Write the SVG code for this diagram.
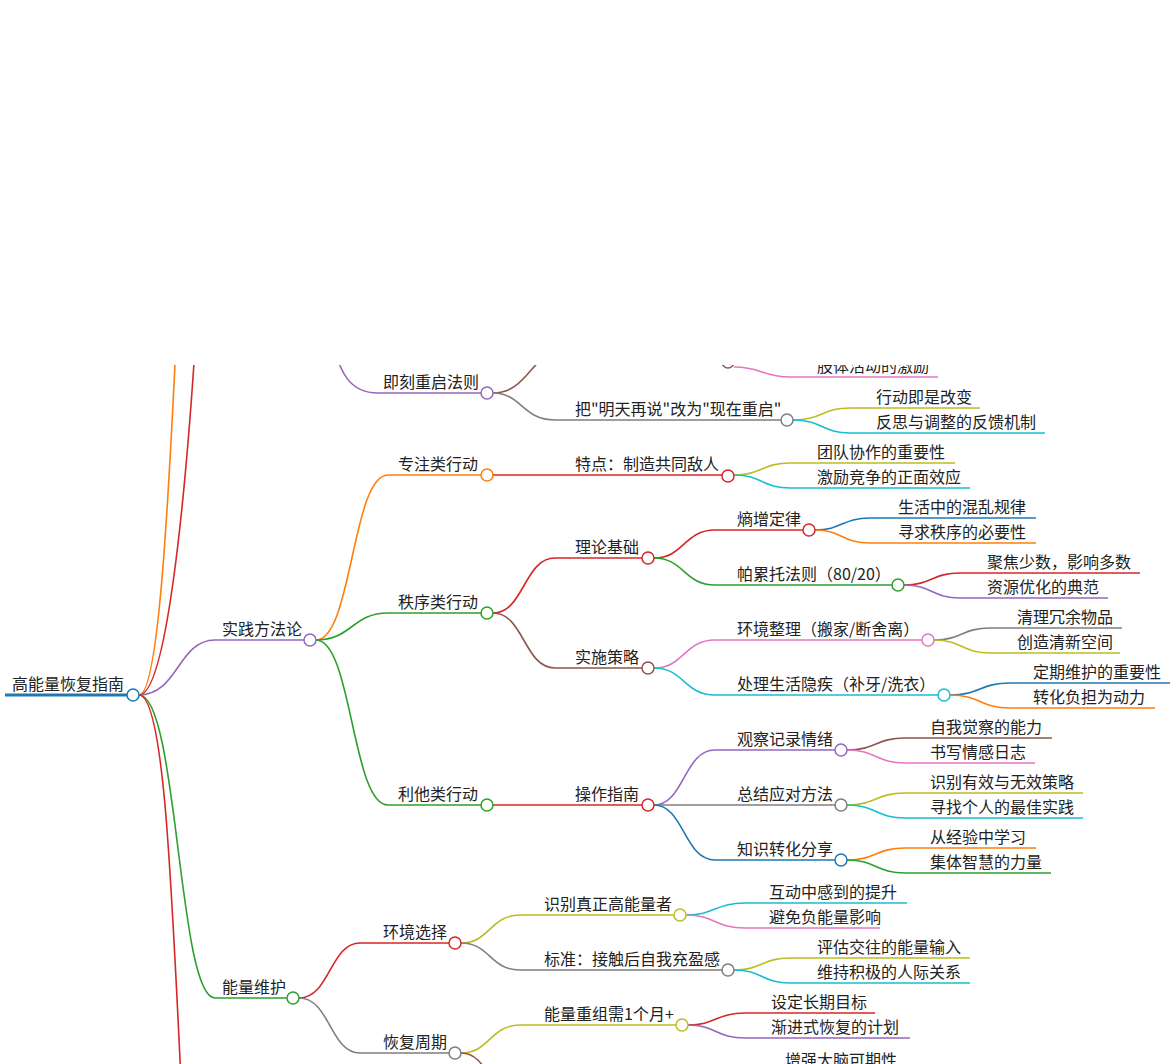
<svg xmlns="http://www.w3.org/2000/svg" width="1176" height="1064" viewBox="0 0 1176 1064">
<defs><clipPath id="c"><rect x="0" y="365" width="1176" height="700"/></clipPath></defs>
<style>
text{font-family:"Noto Sans CJK SC","Noto Sans",sans-serif;font-size:16px;fill:#222}
path{fill:none;stroke-width:1.6}
circle{fill:#fff;stroke-width:1.5}
.pu{stroke:#9467bd}.or{stroke:#ff7f0e}.gr{stroke:#2ca02c}.re{stroke:#d62728}.br{stroke:#8c564b}.pi{stroke:#e377c2}.gy{stroke:#7f7f7f}.ol{stroke:#bcbd22}.cy{stroke:#17becf}.bl{stroke:#1f77b4}
</style>
<rect width="1176" height="1064" fill="#fff"/>
<g clip-path="url(#c)">
<g id="connectors">
<path class="bl" style="stroke-width:3" d="M5,695 L127,695"/>
<path class="or" d="M139,695 C158,695 168,520 178,300"/>
<path class="re" d="M139,695 C165,695 185,520 198,300"/>
<path class="pu" d="M139,695 C178,695 178,640 215,640 L304,640"/>
<path class="gr" d="M139,695 C178,695 178,998 215,998 L287,998"/>
<path class="re" d="M139,695 C165,695 172,900 182,1100"/>
<path class="pu" d="M328,330 C340,375 350,393 378,393 L481,393"/>
<path class="or" d="M316,640 C352,640 352,475 388,475 L481,475"/>
<path class="gr" d="M316,640 C352,640 352,613 388,613 L481,613"/>
<path class="gr" d="M316,640 C352,640 352,805 388,805 L481,805"/>
<path class="br" d="M493,393 C525,393 530,360 560,345"/>
<path class="gy" d="M493,393 C522,393 522,420 555,420 L781,420"/>
<path class="pi" d="M734,367 C762,367 762,377 790,377 L938,377"/>
<path class="ol" d="M793,420 C822,420 822,408 850,408 L980,408"/>
<path class="cy" d="M793,420 C822,420 822,433 850,433 L1045,433"/>
<path class="re" d="M493,475 L722,475"/>
<path class="ol" d="M734,475 C762,475 762,463 790,463 L955,463"/>
<path class="cy" d="M734,475 C762,475 762,488 790,488 L970,488"/>
<path class="re" d="M493,613 C524,613 524,558 555,558 L642,558"/>
<path class="br" d="M493,613 C524,613 524,668 555,668 L642,668"/>
<path class="re" d="M654,558 C684,558 684,530 715,530 L803,530"/>
<path class="gr" d="M654,558 C684,558 684,585 715,585 L892,585"/>
<path class="bl" d="M815,530 C842,530 842,518 870,518 L1036,518"/>
<path class="or" d="M815,530 C842,530 842,543 870,543 L1036,543"/>
<path class="re" d="M904,585 C932,585 932,573 960,573 L1140,573"/>
<path class="pu" d="M904,585 C932,585 932,598 960,598 L1108,598"/>
<path class="pi" d="M654,668 C684,668 684,640 715,640 L922,640"/>
<path class="cy" d="M654,668 C684,668 684,695 715,695 L938,695"/>
<path class="gy" d="M934,640 C962,640 962,628 990,628 L1122,628"/>
<path class="ol" d="M934,640 C962,640 962,653 990,653 L1120,653"/>
<path class="bl" d="M950,695 C980,695 980,683 1010,683 L1170,683"/>
<path class="or" d="M950,695 C980,695 980,708 1010,708 L1155,708"/>
<path class="re" d="M493,805 L642,805"/>
<path class="pu" d="M654,805 C684,805 684,750 715,750 L835,750"/>
<path class="gy" d="M654,805 L835,805"/>
<path class="bl" d="M654,805 C684,805 684,860 715,860 L835,860"/>
<path class="br" d="M847,750 C876,750 876,738 905,738 L1052,738"/>
<path class="pi" d="M847,750 C876,750 876,763 905,763 L1035,763"/>
<path class="ol" d="M847,805 C876,805 876,793 905,793 L1083,793"/>
<path class="cy" d="M847,805 C876,805 876,818 905,818 L1083,818"/>
<path class="or" d="M847,860 C876,860 876,848 905,848 L1036,848"/>
<path class="gr" d="M847,860 C876,860 876,873 905,873 L1051,873"/>
<path class="re" d="M299,998 C330,998 330,943 360,943 L449,943"/>
<path class="gy" d="M299,998 C330,998 330,1053 360,1053 L449,1053"/>
<path class="ol" d="M461,943 C490,943 490,915 520,915 L674,915"/>
<path class="gy" d="M461,943 C490,943 490,970 520,970 L722,970"/>
<path class="cy" d="M686,915 C715,915 715,903 745,903 L907,903"/>
<path class="pi" d="M686,915 C715,915 715,928 745,928 L880,928"/>
<path class="ol" d="M734,970 C762,970 762,958 790,958 L970,958"/>
<path class="cy" d="M734,970 C762,970 762,983 790,983 L970,983"/>
<path class="ol" d="M461,1053 C490,1053 490,1025 520,1025 L676,1025"/>
<path class="br" d="M461,1053 C490,1053 490,1100 520,1100"/>
<path class="re" d="M688,1025 C716,1025 716,1013 745,1013 L875,1013"/>
<path class="pu" d="M688,1025 C716,1025 716,1038 745,1038 L910,1038"/>
</g>
<g id="root"><text x="12" y="690">高能量恢复指南</text><circle class="bl" cx="133" cy="695" r="6"/></g>
<g id="n-shijian"><text x="222" y="635">实践方法论</text><circle class="pu" cx="310" cy="640" r="6"/></g>
<g id="n-nengliang"><text x="222" y="993">能量维护</text><circle class="gr" cx="293" cy="998" r="6"/></g>
<g id="n-jike"><text x="383" y="388">即刻重启法则</text><circle class="pu" cx="487" cy="393" r="6"/></g>
<g id="n-zhuanzhu"><text x="398" y="470">专注类行动</text><circle class="or" cx="487" cy="475" r="6"/></g>
<g id="n-zhixu"><text x="398" y="608">秩序类行动</text><circle class="gr" cx="487" cy="613" r="6"/></g>
<g id="n-lita"><text x="398" y="800">利他类行动</text><circle class="gr" cx="487" cy="805" r="6"/></g>
<g id="n-hidden"><circle class="br" cx="728" cy="362" r="6"/></g>
<g id="n-ba"><text x="575" y="415">把"明天再说"改为"现在重启"</text><circle class="gy" cx="787" cy="420" r="6"/></g>
<g id="n-tedian"><text x="575" y="470">特点：制造共同敌人</text><circle class="re" cx="728" cy="476" r="6"/></g>
<g id="n-lilun"><text x="575" y="553">理论基础</text><circle class="re" cx="648" cy="558" r="6"/></g>
<g id="n-shishi"><text x="575" y="663">实施策略</text><circle class="br" cx="648" cy="668" r="6"/></g>
<g id="n-caozuo"><text x="575" y="800">操作指南</text><circle class="re" cx="648" cy="805" r="6"/></g>
<g id="n-shang"><text x="737" y="525">熵增定律</text><circle class="re" cx="809" cy="530" r="6"/></g>
<g id="n-pa"><text x="737" y="580">帕累托法则（80/20）</text><circle class="gr" cx="898" cy="585" r="6"/></g>
<g id="n-huanjing"><text x="737" y="635">环境整理（搬家/断舍离）</text><circle class="pi" cx="928" cy="640" r="6"/></g>
<g id="n-yinji"><text x="737" y="690">处理生活隐疾（补牙/洗衣）</text><circle class="cy" cx="944" cy="695" r="6"/></g>
<g id="n-guancha"><text x="737" y="745">观察记录情绪</text><circle class="pu" cx="841" cy="750" r="6"/></g>
<g id="n-zongjie"><text x="737" y="800">总结应对方法</text><circle class="gy" cx="841" cy="805" r="6"/></g>
<g id="n-zhishi"><text x="737" y="855">知识转化分享</text><circle class="bl" cx="841" cy="860" r="6"/></g>
<g id="n-hjxz"><text x="383" y="938">环境选择</text><circle class="re" cx="455" cy="943" r="6"/></g>
<g id="n-hfzq"><text x="383" y="1048">恢复周期</text><circle class="gy" cx="455" cy="1053" r="6"/></g>
<g id="n-shibie"><text x="544" y="910">识别真正高能量者</text><circle class="ol" cx="680" cy="915" r="6"/></g>
<g id="n-biaozhun"><text x="544" y="965">标准：接触后自我充盈感</text><circle class="gy" cx="728" cy="970" r="6"/></g>
<g id="n-chongzu"><text x="544" y="1020">能量重组需1个月+</text><circle class="ol" cx="682" cy="1025" r="6"/></g>
<g id="leaves">
<text x="817" y="372">肢体活动的激励</text>
<text x="876" y="403">行动即是改变</text>
<text x="876" y="428">反思与调整的反馈机制</text>
<text x="817" y="458">团队协作的重要性</text>
<text x="817" y="483">激励竞争的正面效应</text>
<text x="898" y="513">生活中的混乱规律</text>
<text x="898" y="538">寻求秩序的必要性</text>
<text x="987" y="568">聚焦少数，影响多数</text>
<text x="987" y="593">资源优化的典范</text>
<text x="1017" y="623">清理冗余物品</text>
<text x="1017" y="648">创造清新空间</text>
<text x="1033" y="678">定期维护的重要性</text>
<text x="1033" y="703">转化负担为动力</text>
<text x="930" y="733">自我觉察的能力</text>
<text x="930" y="758">书写情感日志</text>
<text x="930" y="788">识别有效与无效策略</text>
<text x="930" y="813">寻找个人的最佳实践</text>
<text x="930" y="843">从经验中学习</text>
<text x="930" y="868">集体智慧的力量</text>
<text x="769" y="898">互动中感到的提升</text>
<text x="769" y="923">避免负能量影响</text>
<text x="817" y="953">评估交往的能量输入</text>
<text x="817" y="978">维持积极的人际关系</text>
<text x="771" y="1008">设定长期目标</text>
<text x="771" y="1033">渐进式恢复的计划</text>
<text x="785" y="1066">增强大脑可期性</text>
</g>
</g>
</svg>
